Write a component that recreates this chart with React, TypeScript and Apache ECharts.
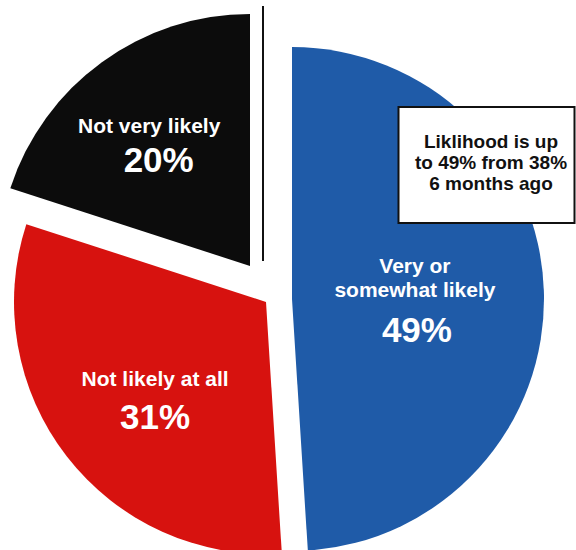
import React, { useEffect, useRef } from "react";
import * as echarts from "echarts";

const categories = ["Very or somewhat likely", "Not likely at all", "Not very likely"];
const labelLines = [["Very or", "somewhat likely"], ["Not likely at all"], ["Not very likely"]];
const values = [49, 31, 20];
const noteLines = ["Liklihood is up", "to 49% from 38%", "6 months ago"];

const COLORS = ["#1f5ba8", "#d7120f", "#0c0c0c"];
const CENTERS = [[292, 299], [266, 302], [250, 266]];
const RADIUS = 252;
const OFFSETS = [[-6, 10], [-9, 23], [-25, -14]];
const BIG_LH = [55, 52, 45];
const BIG_PAD = [4, 0, 19];
const FONT = "'Liberation Sans', Arial, sans-serif";

export default function App() {
  const ref = useRef<HTMLDivElement>(null);
  useEffect(() => {
    if (!ref.current) return;
    const chart = echarts.init(ref.current, null, { renderer: "svg" });
    const series = values.map((_, si) => ({
      type: "pie",
      center: CENTERS[si],
      radius: [0, RADIUS],
      startAngle: 90,
      clockwise: true,
      silent: true,
      animation: false,
      label: { show: false },
      labelLine: { show: false },
      emphasis: { disabled: true },
      data: values.map((v, i) => ({
        name: categories[i],
        value: v,
        itemStyle: { color: i === si ? COLORS[i] : "rgba(0,0,0,0)" },
        label:
          i === si
            ? {
                show: true,
                position: "inside",
                offset: OFFSETS[i],
                formatter: () =>
                  labelLines[i].map((l) => `{a|${l}}`).join("\n") + `\n{b|${v}%}`,
                rich: {
                  a: {
                    color: "#ffffff",
                    fontFamily: FONT,
                    fontWeight: "bold",
                    fontSize: 21,
                    lineHeight: 24.5,
                  },
                  b: {
                    color: "#ffffff",
                    fontFamily: FONT,
                    fontWeight: "bold",
                    fontSize: 35,
                    lineHeight: BIG_LH[i],
                    padding: [0, 0, 0, BIG_PAD[i]],
                  },
                },
              }
            : { show: false },
      })),
    }));
    chart.setOption({
      animation: false,
      backgroundColor: "#ffffff",
      series,
      graphic: [
        {
          type: "line",
          shape: { x1: 263, y1: 6, x2: 263, y2: 261 },
          style: { stroke: "#111111", lineWidth: 2 },
          z: 10,
        },
        {
          type: "rect",
          shape: { x: 398.5, y: 107, width: 176, height: 116 },
          style: { fill: "#ffffff", stroke: "#111111", lineWidth: 2 },
          z: 10,
        },
        {
          type: "text",
          x: 491,
          y: 162,
          z: 11,
          style: {
            text: noteLines.join("\n"),
            fill: "#111111",
            font: `bold 19px ${FONT}`,
            lineHeight: 21,
            align: "center",
            verticalAlign: "middle",
          },
        },
      ],
    });
    return () => chart.dispose();
  }, []);
  return (
    <div
      ref={ref}
      style={{ position: "absolute", left: 0, top: 0, width: 576, height: 550 }}
    />
  );
}
